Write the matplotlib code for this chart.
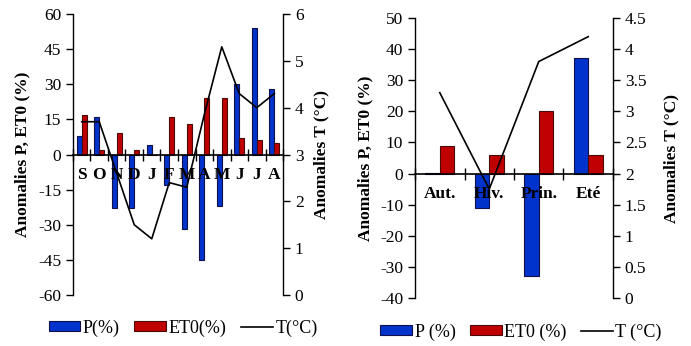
import matplotlib
matplotlib.use("Agg")
import matplotlib.pyplot as plt
import numpy as np
from matplotlib.patches import Patch
from matplotlib.lines import Line2D

plt.rcParams['font.family'] = ['Liberation Serif', 'DejaVu Serif']

months = ["S", "O", "N", "D", "J", "F", "M", "A", "M", "J", "J", "A"]
p_month = [8, 16, -23, -23, 4, -13, -32, -45, -22, 30, 54, 28]
et0_month = [17, 2, 9, 2, 0, 16, 13, 24, 24, 7, 6, 5]
t_month = [3.7, 3.7, 2.6, 1.5, 1.2, 2.4, 2.3, 3.85, 5.3, 4.3, 4.0, 4.3]

seasons = ["Aut.", "Hiv.", "Prin.", "Eté"]
p_season = [0.3, -11, -33, 37]
et0_season = [9, 6, 20, 6]
t_season = [3.3, 1.75, 3.8, 4.2]

BLUE = "#0033cc"
BLUE_E = "#10104a"
RED = "#c00000"
RED_E = "#4a0a0a"
FS = 12.5
LFS = 12.5

fig = plt.figure(figsize=(6.91, 3.46), dpi=100)


def panel(rect, cats, p, e, t, ylim, yticks, t_lim, t_ticks, lpad, rpad):
    ax = fig.add_axes(rect)
    ax.set_axisbelow(False)
    x = np.arange(len(cats))
    w = 0.29
    ax.bar(x - w / 2, p, w, color=BLUE, edgecolor=BLUE_E, linewidth=0.8, zorder=2)
    ax.bar(x + w / 2, e, w, color=RED, edgecolor=RED_E, linewidth=0.8, zorder=2)
    ax.set_xlim(-0.5, len(cats) - 0.5)
    ax.set_ylim(*ylim)
    ax.set_yticks(yticks)
    ax.set_yticklabels([str(v) for v in yticks], fontsize=FS)
    ax.spines['top'].set_visible(False)
    ax.spines['right'].set_visible(False)
    ax.spines['bottom'].set_position(('data', 0))
    ax.spines['bottom'].set_linewidth(1.2)
    ax.spines['bottom'].set_zorder(3)
    ax.spines['left'].set_linewidth(1.0)
    ax.set_xticks(x)
    ax.set_xticklabels(cats, fontsize=12.5, fontweight='bold')
    ax.tick_params(axis='x', which='major', length=0, pad=9)
    ax.set_xticks(np.arange(len(cats) + 1) - 0.5, minor=True)
    ax.tick_params(axis='x', which='minor', length=8, direction='inout', width=1.0)
    ax.tick_params(axis='y', direction='out', length=5, width=1.0)
    ax.set_ylabel("Anomalies P, ET0 (%)", fontsize=LFS, fontweight='bold', labelpad=lpad)

    ax2 = ax.twinx()
    ax2.plot(x, t, color='black', linewidth=1.2, zorder=3)
    ax2.set_ylim(*t_lim)
    ax2.set_yticks(t_ticks)
    ax2.set_yticklabels([f"{v:g}" for v in t_ticks], fontsize=FS)
    for s in ['top', 'bottom', 'left']:
        ax2.spines[s].set_visible(False)
    ax2.spines['right'].set_linewidth(1.0)
    ax2.tick_params(axis='y', direction='out', length=5, width=1.0)
    ax2.set_ylabel("Anomalies T (°C)", fontsize=LFS, fontweight='bold', labelpad=rpad)
    return ax, ax2


panel([0.1056, 0.1474, 0.304, 0.8121], months, p_month, et0_month, t_month,
      (-60, 60), list(range(-60, 61, 15)), (0, 6), list(range(0, 7)), 5.5, 7)
panel([0.6006, 0.1387, 0.2865, 0.8093], seasons, p_season, et0_season, t_season,
      (-40, 50), list(range(-40, 51, 10)), (0, 4.5), list(np.arange(0, 4.51, 0.5)), 5, 12)


def legend(labels, center):
    handles = [Patch(facecolor=BLUE, edgecolor=BLUE_E, linewidth=0.8),
               Patch(facecolor=RED, edgecolor=RED_E, linewidth=0.8),
               Line2D([], [], color='black', linewidth=1.2)]
    fig.legend(handles, labels, loc='center', bbox_to_anchor=center, ncol=3,
               frameon=False, fontsize=13, handlelength=1.75, handleheight=0.5,
               handletextpad=0.15, columnspacing=0.8, borderaxespad=0)


legend(["P(%)", "ET0(%)", "T(°C)"], (183 / 691, 1 - 328 / 346))
legend(["P (%)", "ET0 (%)", "T (°C)"], (521 / 691, 1 - 332 / 346))

fig.savefig("out.png", dpi=100, facecolor='white')
